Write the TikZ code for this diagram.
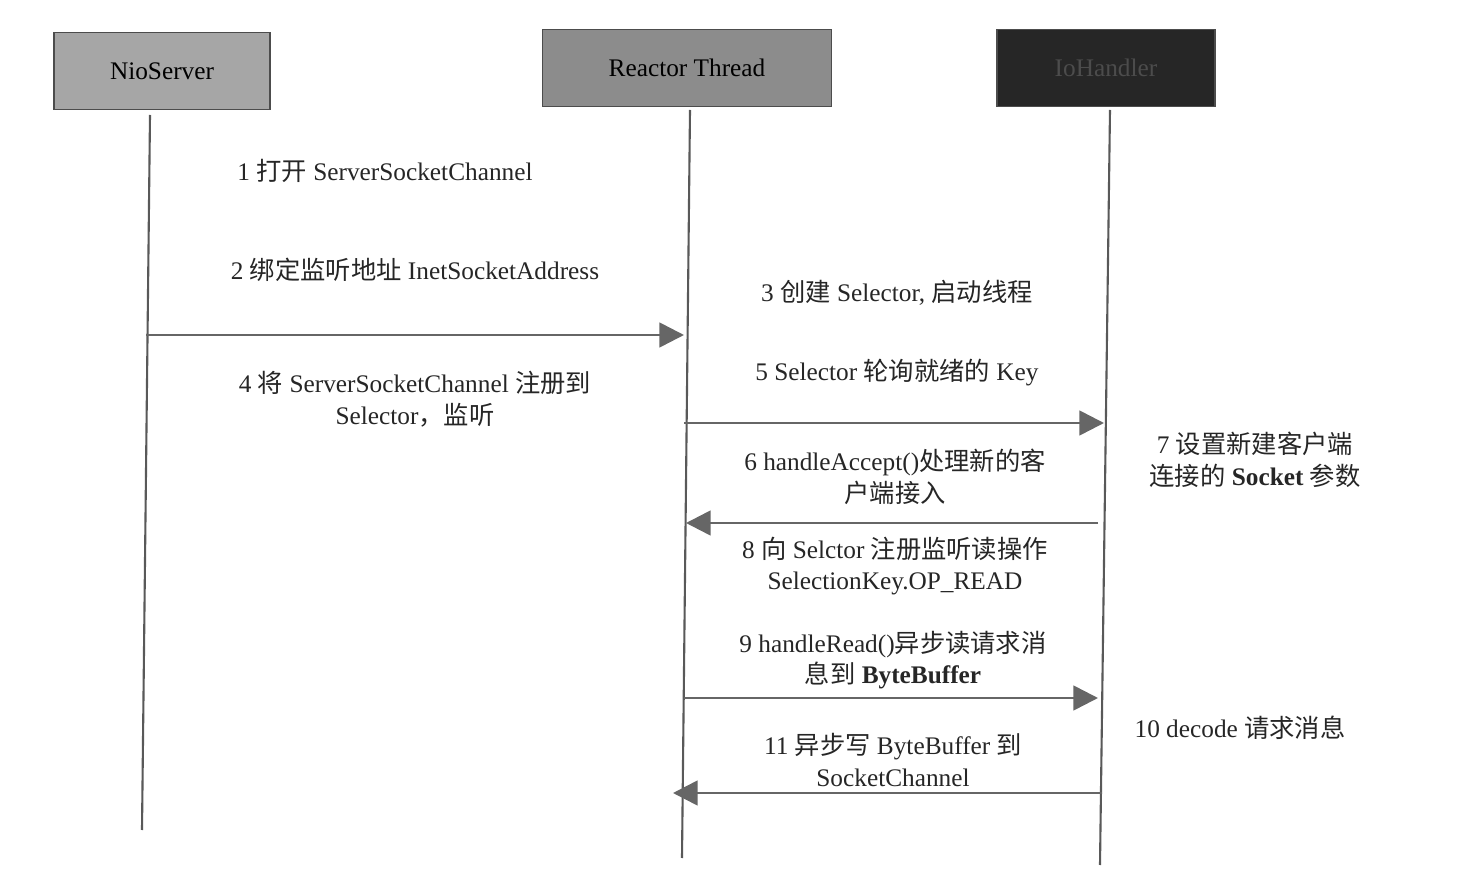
\documentclass[tikz,border=0pt]{standalone}
\usepackage{fontspec}
\setmainfont{Liberation Serif}
\newfontfamily\cjk{Noto Sans CJK SC}
\usetikzlibrary{arrows.meta}
\newcommand{\zh}[1]{{\cjk #1}}
\begin{document}
\begin{tikzpicture}[x=0.02cm,y=-0.02cm,
  hdr/.style={draw=black!70,line width=1pt,minimum width=4.3cm,minimum height=1.54cm,font=\Large},
  life/.style={line width=1.2pt,black!65},
  msg/.style={line width=1.5pt,black!60,-{Triangle[length=14pt,width=14pt]}},
  lbl/.style={font=\Large,align=center,text=black!85}]
\useasboundingbox[fill=white] (0,0) rectangle (1472,888);
\node[hdr,fill=black!35,minimum width=4.32cm] (nio) at (162,71) {NioServer};
\node[hdr,fill=black!45,minimum width=5.78cm] (rt) at (687,68) {Reactor Thread};
\node[hdr,fill=black!85,minimum width=4.36cm,text=black!70] (io) at (1106,68) {IoHandler};
\coordinate (n0) at (150,115); \coordinate (n1) at (142,830);
\coordinate (r0) at (690,110); \coordinate (r1) at (682,858);
\coordinate (i0) at (1110,110); \coordinate (i1) at (1100,865);
\draw[life] (n0)--(n1); \draw[life] (r0)--(r1); \draw[life] (i0)--(i1);
\coordinate (a1s) at (146,335); \coordinate (a1e) at (684,335);
\coordinate (a2s) at (684,423); \coordinate (a2e) at (1104,423);
\coordinate (a3s) at (1098,523); \coordinate (a3e) at (686,523);
\coordinate (a4s) at (684,698); \coordinate (a4e) at (1098,698);
\coordinate (a5s) at (1102,793); \coordinate (a5e) at (673,793);
\draw[msg] (a1s)--(a1e); \draw[msg] (a2s)--(a2e); \draw[msg] (a3s)--(a3e);
\draw[msg] (a4s)--(a4e); \draw[msg] (a5s)--(a5e);
\node[lbl] (t1) at (385,171) {1 \zh{打开} ServerSocketChannel};
\node[lbl] (t2) at (415,270) {2 \zh{绑定监听地址} InetSocketAddress};
\node[lbl] (t3) at (897,293) {3 \zh{创建} Selector, \zh{启动线程}};
\node[lbl] (t4) at (415,399) {4 \zh{将} ServerSocketChannel \zh{注册到}\\Selector\zh{，监听}};
\node[lbl] (t5) at (897,373) {5 Selector \zh{轮询就绪的} Key};
\node[lbl] (t6) at (895,477) {6 handleAccept()\zh{处理新的客}\\\zh{户端接入}};
\node[lbl] (t7) at (1255,460) {7 \zh{设置新建客户端}\\\zh{连接的} \textbf{Socket} \zh{参数}};
\node[lbl] (t8) at (895,566) {8 \zh{向} Selctor \zh{注册监听读操作}\\SelectionKey.OP\_READ};
\node[lbl] (t9) at (893,660) {9 handleRead()\zh{异步读请求消}\\\zh{息到} \textbf{ByteBuffer}};
\node[lbl] (t10) at (1240,728) {10 decode \zh{请求消息}};
\node[lbl] (t11) at (893,760) {11 \zh{异步写} ByteBuffer \zh{到}\\SocketChannel};
\end{tikzpicture}
\end{document}
